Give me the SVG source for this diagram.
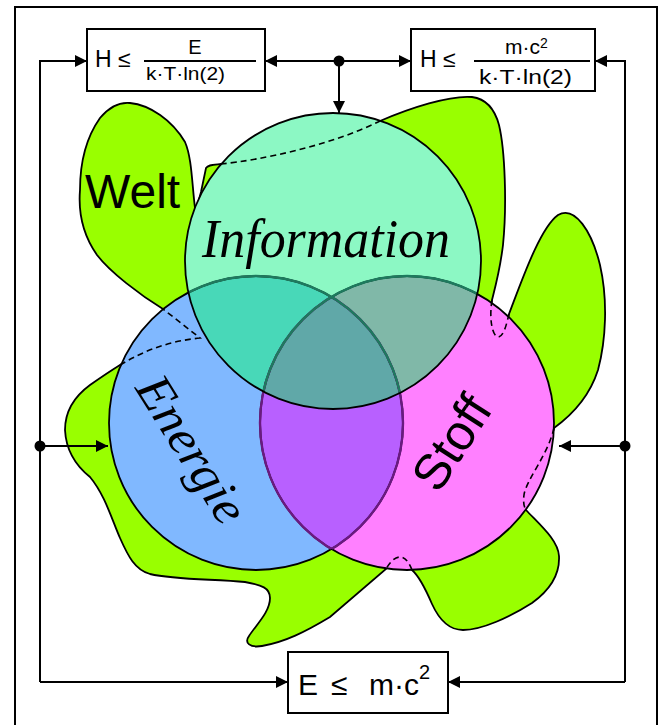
<svg xmlns="http://www.w3.org/2000/svg" width="664" height="725" viewBox="0 0 664 725">
<style>
.ln{fill:none;stroke:#000;stroke-width:2}
.box{fill:#fff;stroke:#000;stroke-width:2}
.f{font-family:"Liberation Sans",Arial,sans-serif;fill:#000}
.sc{font-family:"Liberation Serif","Times New Roman",serif;font-style:italic;fill:#000}
.dash{fill:none;stroke:#000;stroke-width:1.6;stroke-dasharray:6 4}
</style>
<defs>
<marker id="ah" markerWidth="12" markerHeight="12" refX="12" refY="6" orient="auto" markerUnits="userSpaceOnUse">
<path d="M0,0 L12,6 L0,12 z" fill="#000"/>
</marker>
<clipPath id="cI"><circle cx="333" cy="261" r="148"/></clipPath>
<clipPath id="cE"><circle cx="256" cy="423" r="147"/></clipPath>
<clipPath id="cS"><circle cx="407" cy="423" r="147"/></clipPath>
</defs>
<rect x="15" y="7" width="642" height="740" fill="none" stroke="#000" stroke-width="2"/>

<g id="welt">
<path fill="#99FF00" stroke="#000" stroke-width="1.8" d="M163,309 C140,295 110,272 97,255 C85,238 78,215 80,190 C80,160 88,135 100,118 C110,106 120,102 130,103 C150,105 172,120 185,142 C192,158 192,185 195,208 L197,207 L201,192 L206,168 C208,165 212,165 221,164 C260,160 330,146 380,121 C410,108 450,95 472,97 C487,99 495,110 499,125 C505,150 507,205 503,245 C500,270 495,288 492,300 C489,318 492,336 498,337 C504,337 507,322 509,314 C522,280 540,228 558,215 C575,205 592,232 600,265 C608,300 606,340 598,370 C590,395 572,415 554,428 C548,455 526,480 524,495 C523,502 524,507 526,510 C540,525 558,540 559,556 C560,575 550,590 532,603 C510,617 482,630 463,630 C446,630 437,615 432,604 C426,590 420,577 412,570 C408,560 404,557 400,557 C395,557 390,562 386,569 L330,617 C305,632 285,642 262,646 C250,648 244,643 249,636 C256,625 270,612 270,598 C270,588 262,585 245,582 C215,579 175,580 150,574 C135,570 128,556 120,538 C112,520 105,495 90,477 C75,465 66,450 65,430 C65,410 75,396 90,385 C100,378 112,370 120,365 C145,350 170,341 200,338 L163,309 Z"/>
<text class="f" x="85" y="208" font-size="48">Welt</text>
</g>

<g id="circles">
<circle cx="256" cy="423" r="147" fill="#80B8FF"/>
<circle cx="407" cy="423" r="147" fill="#FF80FF"/>
<circle cx="333" cy="261" r="148" fill="#8CF8C4"/>
<circle cx="407" cy="423" r="147" fill="#B860FF" clip-path="url(#cE)"/>
<g clip-path="url(#cI)">
<circle cx="256" cy="423" r="147" fill="#48D8B8"/>
<circle cx="407" cy="423" r="147" fill="#80B8A8"/>
<g clip-path="url(#cE)"><circle cx="407" cy="423" r="147" fill="#60A8A8"/></g>
</g>
<circle cx="256" cy="423" r="147" fill="none" stroke="#000" stroke-width="1.8"/>
<circle cx="407" cy="423" r="147" fill="none" stroke="#000" stroke-width="1.8"/>
<circle cx="256" cy="423" r="147" fill="none" stroke="#6A1A80" stroke-width="2.4" clip-path="url(#cS)"/>
<circle cx="407" cy="423" r="147" fill="none" stroke="#6A1A80" stroke-width="2.4" clip-path="url(#cE)"/>
<g clip-path="url(#cI)">
<circle cx="256" cy="423" r="147" fill="none" stroke="#1E7A5E" stroke-width="2.4"/>
<circle cx="407" cy="423" r="147" fill="none" stroke="#1E7A5E" stroke-width="2.4"/>
</g>
<circle cx="333" cy="261" r="148" fill="none" stroke="#000" stroke-width="1.8"/>
</g>

<g id="hidden-outline">
<path class="dash" d="M221,164 C260,160 330,146 380,121"/>
<path class="dash" d="M492,300 C489,318 492,336 498,337 C504,337 507,322 509,314"/>
<path class="dash" d="M554,428 C548,455 526,480 524,495 C523,502 524,507 526,510"/>
<path class="dash" d="M412,570 C408,560 404,557 400,557 C395,557 390,562 386,569"/>
<path class="dash" d="M120,365 C145,350 170,341 200,338 L163,309"/>
</g>

<g id="information">
<text class="sc" x="202" y="257" font-size="54" textLength="248" lengthAdjust="spacingAndGlyphs">Information</text>
</g>
<g id="energie">
<text class="sc" transform="translate(178,458) rotate(58)" text-anchor="middle" font-size="50" textLength="165" lengthAdjust="spacingAndGlyphs">Energie</text>
</g>
<g id="stoff">
<text class="f" transform="translate(466,452) rotate(-57)" text-anchor="middle" font-size="50">Stoff</text>
</g>

<g id="box-info-energy">
<rect class="box" x="87" y="29" width="178" height="62"/>
<text class="f" x="95" y="67" font-size="23">H ≤</text>
<text class="f" x="195" y="54" font-size="20" text-anchor="middle">E</text>
<line x1="144" y1="61" x2="256" y2="61" stroke="#000" stroke-width="2"/>
<text class="f" x="146" y="80" font-size="18" textLength="79" lengthAdjust="spacingAndGlyphs">k·T·ln(2)</text>
</g>

<g id="box-info-matter">
<rect class="box" x="411" y="29" width="184" height="62"/>
<text class="f" x="420" y="67" font-size="23">H ≤</text>
<text class="f" x="505" y="54" font-size="21">m·c<tspan dy="-6" font-size="14">2</tspan></text>
<line x1="474" y1="61" x2="590" y2="61" stroke="#000" stroke-width="2"/>
<text class="f" x="479" y="84" font-size="21" textLength="93" lengthAdjust="spacingAndGlyphs">k·T·ln(2)</text>
</g>

<g id="box-energy-matter">
<rect class="box" x="288" y="652" width="160" height="61"/>
<text class="f" x="298" y="695" font-size="30">E<tspan x="331">≤</tspan><tspan x="369">m·c</tspan><tspan dy="-16" font-size="20">2</tspan></text>
</g>

<g id="connectors">
<polyline class="ln" points="40,682 40,61 87,61" marker-end="url(#ah)"/>
<line class="ln" x1="339" y1="61" x2="265" y2="61" marker-end="url(#ah)"/>
<line class="ln" x1="339" y1="61" x2="411" y2="61" marker-end="url(#ah)"/>
<line class="ln" x1="339" y1="61" x2="339" y2="113" marker-end="url(#ah)"/>
<polyline class="ln" points="625,682 625,61 595,61" marker-end="url(#ah)"/>
<line class="ln" x1="40" y1="446" x2="108" y2="446" marker-end="url(#ah)"/>
<line class="ln" x1="625" y1="446" x2="559" y2="446" marker-end="url(#ah)"/>
<line class="ln" x1="40" y1="682" x2="288" y2="682" marker-end="url(#ah)"/>
<line class="ln" x1="625" y1="682" x2="448" y2="682" marker-end="url(#ah)"/>
<circle cx="339" cy="61" r="5.5" fill="#000"/>
<circle cx="40" cy="446" r="5.5" fill="#000"/>
<circle cx="625" cy="446" r="5.5" fill="#000"/>
</g>
</svg>
